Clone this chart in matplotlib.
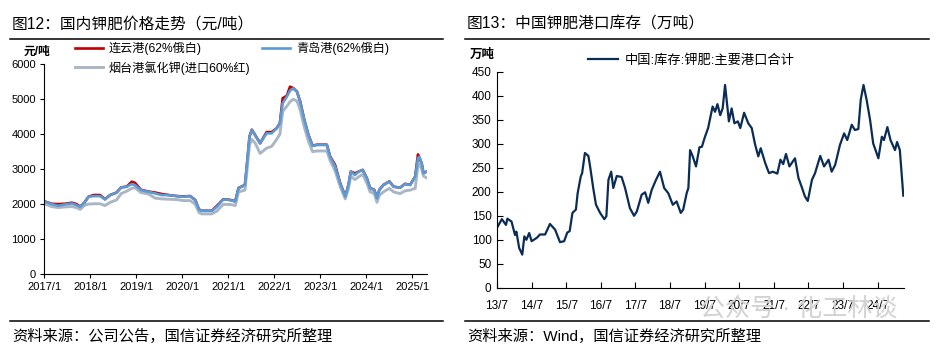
import matplotlib
matplotlib.use("Agg")
import matplotlib.pyplot as plt
from matplotlib.lines import Line2D

plt.rcParams['font.family'] = ['Liberation Sans', 'Noto Sans CJK SC', 'DejaVu Sans']

# %% Data: domestic potash prices (yuan/t) -----------------------------------------------------------------------------
price_t = [2017.02, 2017.16, 2017.30, 2017.45, 2017.60, 2017.70, 2017.78, 2017.87, 2017.96, 2018.07,
           2018.21, 2018.32, 2018.43, 2018.57, 2018.67, 2018.79, 2018.90, 2018.97, 2019.10, 2019.26,
           2019.41, 2019.55, 2019.70, 2019.88, 2020.02, 2020.17, 2020.28, 2020.36, 2020.42, 2020.64,
           2020.75, 2020.89, 2021.04, 2021.15, 2021.22, 2021.36, 2021.40, 2021.46, 2021.51, 2021.58,
           2021.69, 2021.83, 2021.94, 2022.05, 2022.12, 2022.18, 2022.27, 2022.34, 2022.41, 2022.49,
           2022.56, 2022.65, 2022.74, 2022.83, 2022.92, 2023.07, 2023.14, 2023.21, 2023.32, 2023.43,
           2023.54, 2023.61, 2023.66, 2023.75, 2023.83, 2023.92, 2024.01, 2024.08, 2024.17, 2024.23,
           2024.28, 2024.37, 2024.50, 2024.59, 2024.73, 2024.84, 2024.95, 2025.06, 2025.12, 2025.15,
           2025.20, 2025.24, 2025.31]
lianyungang = [2070, 2010, 2000, 2010, 2040, 2000, 1930, 2040, 2210, 2260,
               2260, 2140, 2260, 2330, 2480, 2500, 2640, 2610, 2410, 2360,
               2330, 2290, 2260, 2230, 2220, 2230, 2120, 1850, 1810, 1810,
               1950, 2140, 2120, 2080, 2460, 2550, 3080, 3940, 4130, 3980,
               3740, 4060, 4060, 4170, 4320, 5030, 5100, 5360, 5320, 5220,
               4940, 4410, 3980, 3670, 3700, 3700, 3700, 3370, 3120, 2600,
               2220, 2550, 2930, 2880, 2930, 2980, 2740, 2460, 2410, 2170,
               2410, 2550, 2650, 2500, 2470, 2580, 2550, 2790, 3420, 3330,
               3170, 2890, 2930]
qingdao = [2067, 2000, 1952, 1990, 2019, 1971, 1924, 2038, 2210, 2229,
           2229, 2134, 2258, 2324, 2477, 2496, 2572, 2544, 2400, 2353,
           2305, 2258, 2258, 2229, 2210, 2229, 2114, 1847, 1809, 1809,
           1924, 2134, 2114, 2070, 2451, 2546, 3071, 3929, 4120, 3977,
           3739, 4025, 4025, 4168, 4311, 4883, 5073, 5245, 5312, 5216,
           4931, 4406, 3977, 3663, 3691, 3691, 3691, 3357, 3071, 2594,
           2212, 2546, 2928, 2833, 2928, 2976, 2738, 2451, 2403, 2165,
           2403, 2546, 2641, 2498, 2469, 2575, 2546, 2784, 3309, 3357,
           3166, 2880, 2928]
yantai = [2000, 1930, 1900, 1920, 1930, 1900, 1850, 1960, 2000, 2010,
          2010, 1960, 2050, 2120, 2300, 2370, 2450, 2470, 2330, 2290,
          2170, 2150, 2140, 2130, 2100, 2100, 2000, 1760, 1720, 1720,
          1800, 1990, 1990, 1960, 2350, 2400, 2900, 3700, 3850, 3750,
          3450, 3600, 3650, 3850, 4000, 4650, 4800, 4930, 5000, 4950,
          4700, 4200, 3800, 3500, 3520, 3520, 3520, 3250, 2950, 2500,
          2150, 2450, 2800, 2700, 2780, 2850, 2600, 2350, 2300, 2050,
          2250, 2350, 2450, 2350, 2300, 2380, 2400, 2450, 3100, 3150,
          3000, 2800, 2750]
price_ticks = list(range(2017, 2026))
price_tick_labels = [f"{y}/1" for y in price_ticks]

# %% Data: port potash inventory (10k t) ---------------------------------------------------------------------------------
stock_t = [0.00, 0.14, 0.26, 0.30, 0.42, 0.52, 0.56, 0.64, 0.73, 0.79,
           0.85, 0.93, 1.00, 1.15, 1.24, 1.39, 1.53, 1.68, 1.82, 1.94,
           2.03, 2.10, 2.18, 2.28, 2.33, 2.42, 2.46, 2.54, 2.64, 2.69,
           2.78, 2.86, 2.98, 3.10, 3.16, 3.22, 3.30, 3.36, 3.46, 3.60,
           3.70, 3.84, 3.96, 4.04, 4.18, 4.28, 4.37, 4.47, 4.60, 4.71,
           4.83, 4.95, 5.08, 5.19, 5.31, 5.38, 5.48, 5.53, 5.58, 5.65,
           5.75, 5.85, 5.92, 6.01, 6.10, 6.23, 6.30, 6.37, 6.45, 6.52,
           6.59, 6.70, 6.78, 6.86, 6.96, 7.03, 7.14, 7.26, 7.36, 7.46,
           7.55, 7.62, 7.75, 7.86, 7.97, 8.10, 8.19, 8.27, 8.35, 8.45,
           8.61, 8.71, 8.80, 8.90, 8.98, 9.10, 9.19, 9.34, 9.45, 9.58,
           9.67, 9.77, 9.91, 10.03, 10.12, 10.25, 10.34, 10.44, 10.51, 10.59,
           10.68, 10.78, 10.87, 11.02, 11.12, 11.18, 11.28, 11.37, 11.50, 11.56,
           11.64, 11.74]
stock = [125, 143, 131, 144, 138, 110, 117, 83, 69, 107,
         100, 114, 97, 104, 111, 111, 133, 121, 95, 97,
         115, 118, 156, 163, 197, 232, 239, 281, 275, 253,
         208, 173, 156, 143, 149, 225, 242, 208, 233, 231,
         208, 166, 150, 159, 194, 199, 177, 204, 226, 242,
         208, 197, 173, 180, 156, 163, 197, 208, 287, 275,
         253, 293, 294, 315, 333, 378, 367, 383, 360, 374,
         423, 347, 374, 343, 347, 333, 365, 343, 333, 298,
         274, 291, 260, 239, 242, 238, 267, 258, 279, 253,
         270, 229, 211, 190, 181, 225, 239, 275, 253, 267,
         242, 256, 298, 322, 308, 340, 329, 331, 392, 423,
         392, 350, 301, 270, 315, 308, 335, 308, 287, 304,
         287, 192]
stock_x = [2013.5 + t for t in stock_t]
stock_ticks = [2013.5 + i for i in range(12)]
stock_tick_labels = [f"{13 + i}/7" for i in range(12)]

# %% Figure --------------------------------------------------------------------------------------------------------------
W, H = 939, 350
fig = plt.figure(figsize=(W / 100, H / 100), dpi=100)


def px(x, y):
    return x / W, 1 - y / H


# region Frame: titles, rules, sources
for x0, x1 in [(10, 443), (465, 929)]:
    fig.add_artist(Line2D([x0 / W, x1 / W], [1 - 39 / H] * 2, color="black", lw=1.1))
    fig.add_artist(Line2D([x0 / W, x1 / W], [1 - 320.5 / H] * 2, color="black", lw=1.1))
fig.text(*px(12, 24), "图12：国内钾肥价格走势（元/吨）", fontsize=11.3, va="center", ha="left")
fig.text(*px(467, 24), "图13：中国钾肥港口库存（万吨）", fontsize=11.3, va="center", ha="left")
fig.text(*px(12, 336), "资料来源：公司公告，国信证券经济研究所整理", fontsize=11, va="center", ha="left")
fig.text(*px(467, 336), "资料来源：Wind，国信证券经济研究所整理", fontsize=11, va="center", ha="left")
# faint watermark, sits behind the last tick labels like in the source
fig.text(*px(700, 309), "公众号 · 化工林谈", fontsize=18, va="center", ha="left", color="#d2d2d2", zorder=0)
# endregion

# region Left: prices
ax1 = fig.add_axes([44.3 / W, 1 - 274 / H, (426.7 - 44.3) / W, (274 - 64.3) / H])
ax1.plot(price_t, lianyungang, color="#C00000", lw=1.9, label="连云港(62%俄白)")
ax1.plot(price_t, yantai, color="#A9B6C6", lw=2.1, label="烟台港氯化钾(进口60%红)")
ax1.plot(price_t, qingdao, color="#5B9BD5", lw=1.9, label="青岛港(62%俄白)")
ax1.set_xlim(2017.0, 2025.31)
ax1.set_ylim(0, 6000)
ax1.set_yticks(range(0, 6001, 1000))
ax1.set_xticks(price_ticks, price_tick_labels)
for s in ["top", "right"]:
    ax1.spines[s].set_visible(False)
ax1.tick_params(labelsize=8, length=3, width=0.8, direction="out", pad=3)
fig.text(*px(37, 52), "元/吨", fontsize=8.5, fontweight="bold", ha="center", va="center")
ax1.legend(ncol=2, frameon=False, fontsize=8.7, loc="upper left", bbox_to_anchor=(0.08, 1.105),
           handlelength=2.3, columnspacing=1.0, labelspacing=0.45, handletextpad=0.5, borderaxespad=0,
           borderpad=0)
# endregion

# region Right: port inventory
ax2 = fig.add_axes([497 / W, 1 - 287.7 / H, (904 - 497) / W, (287.7 - 72) / H])
ax2.plot(stock_x, stock, color="#0B2D55", lw=1.6, label="中国:库存:钾肥:主要港口合计")
ax2.set_xlim(2013.5, 2025.26)
ax2.set_ylim(0, 450)
ax2.set_yticks(range(0, 451, 50))
ax2.set_xticks(stock_ticks, stock_tick_labels)
for s in ["top", "right"]:
    ax2.spines[s].set_visible(False)
ax2.tick_params(labelsize=8.5, length=4, width=0.8, direction="in", pad=4)
ax2.tick_params(axis="x", pad=9)
fig.text(*px(482, 55), "万吨", fontsize=9, fontweight="bold", ha="center", va="center")
ax2.legend(frameon=False, fontsize=9.5, loc="center left", bbox_to_anchor=((588 - 497) / 407, 1.055),
           handlelength=2.3, handletextpad=0.5, borderaxespad=0, borderpad=0)
# endregion

fig.savefig("out.png", dpi=100)
